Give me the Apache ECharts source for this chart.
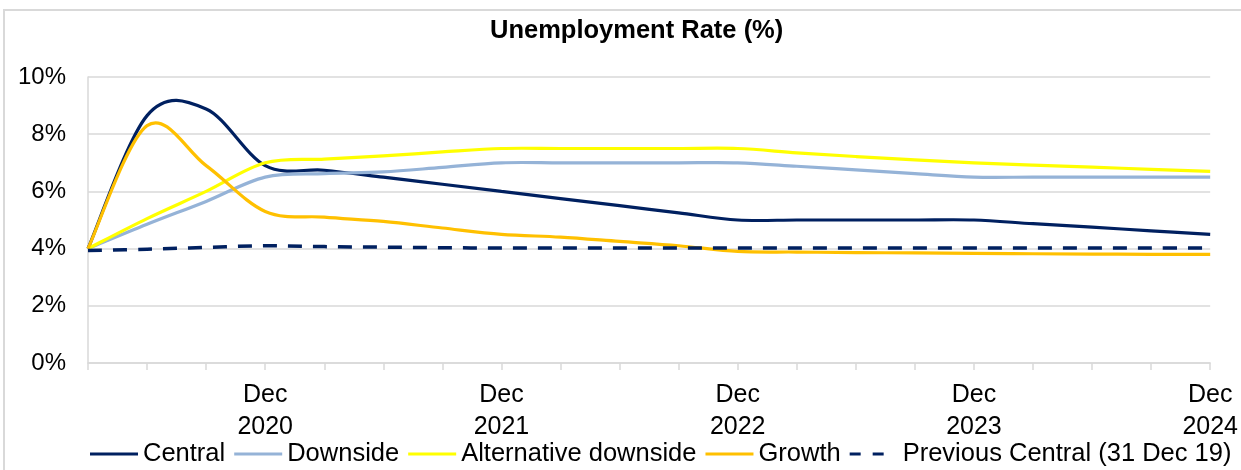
<!DOCTYPE html>
<html>
<head>
<meta charset="utf-8">
<script src="https://cdn.jsdelivr.net/npm/echarts@6/dist/echarts.min.js"></script>
<style>
html,body{margin:0;padding:0;background:#fff;}
#chart{width:1241px;height:470px;}
</style>
</head>
<body>
<div id="chart"></div>
<script>
// Quarterly categories, Mar 2020 .. Dec 2024
const categories = [
  'Mar 2020','Jun 2020','Sep 2020','Dec 2020',
  'Mar 2021','Jun 2021','Sep 2021','Dec 2021',
  'Mar 2022','Jun 2022','Sep 2022','Dec 2022',
  'Mar 2023','Jun 2023','Sep 2023','Dec 2023',
  'Mar 2024','Jun 2024','Sep 2024','Dec 2024'
];
const central = [4.0, 8.65, 8.88, 6.9, 6.74, 6.5, 6.25, 6.0, 5.75, 5.5, 5.25, 5.0, 5.0, 5.0, 5.0, 5.0, 4.87, 4.75, 4.62, 4.5];
const downside = [4.0, 4.85, 5.65, 6.5, 6.62, 6.68, 6.84, 7.0, 7.0, 7.0, 7.0, 7.0, 6.88, 6.75, 6.62, 6.5, 6.5, 6.5, 6.5, 6.5];
const altDownside = [4.0, 5.05, 6.0, 7.0, 7.13, 7.24, 7.38, 7.5, 7.5, 7.5, 7.5, 7.5, 7.35, 7.22, 7.1, 7.0, 6.92, 6.85, 6.77, 6.7];
const growth = [4.0, 8.3, 6.9, 5.3, 5.1, 4.95, 4.72, 4.5, 4.4, 4.25, 4.1, 3.9, 3.88, 3.86, 3.85, 3.83, 3.82, 3.81, 3.8, 3.8];
const previousCentral = [3.93, 3.98, 4.04, 4.1, 4.07, 4.05, 4.03, 4.02, 4.02, 4.02, 4.02, 4.02, 4.02, 4.02, 4.02, 4.02, 4.02, 4.02, 4.02, 4.02];
const yTicks = [0, 2, 4, 6, 8, 10];

const FONT = '"Liberation Sans", Arial, sans-serif';
const chart = echarts.init(document.getElementById('chart'), null, {renderer: 'canvas'});

// Spreadsheet-style smoothed curve through the data points (Catmull-Rom -> Bezier),
// with every point placed through the chart's own axes via api.coord.
function smoothPath(api, values) {
  const p = values.map((v, i) => api.coord([i, v]));
  let d = 'M' + p[0][0] + ' ' + p[0][1];
  for (let i = 0; i < p.length - 1; i++) {
    const a = p[i - 1] || p[i], b = p[i], c = p[i + 1], e = p[i + 2] || p[i + 1];
    const c1x = b[0] + (c[0] - a[0]) / 6, c1y = b[1] + (c[1] - a[1]) / 6;
    const c2x = c[0] - (e[0] - b[0]) / 6, c2y = c[1] - (e[1] - b[1]) / 6;
    d += ' C' + c1x + ' ' + c1y + ' ' + c2x + ' ' + c2y + ' ' + c[0] + ' ' + c[1];
  }
  return d;
}

function mk(name, values, color, width, dash) {
  return {
    name: name, type: 'custom',
    data: values.map((v, i) => [i, v]),
    encode: {x: 0, y: 1},
    itemStyle: {color: color},
    renderItem: function (params, api) {
      if (params.dataIndex !== 0) return;
      return {
        type: 'path',
        shape: {pathData: smoothPath(api, values)},
        style: {fill: 'none', stroke: color, lineWidth: width, lineDash: dash || null, lineCap: 'butt', lineJoin: 'round'}
      };
    }
  };
}

const LINE_ICON = 'path://M0,0H48V3H0Z';
const DASH_ICON = 'path://M0,0H11V3H0Z M23,0H34V3H23Z M47.9,0H48V0.01H47.9Z';

chart.setOption({
  animation: false,
  backgroundColor: '#fff',
  graphic: [{
    type: 'rect', shape: {x: 4, y: 10, width: 1400, height: 600},
    style: {fill: 'none', stroke: '#D9D9D9', lineWidth: 2}, silent: true, z: -1
  }],
  title: {
    text: 'Unemployment Rate (%)', left: 490, top: 18, padding: 0,
    textStyle: {fontFamily: FONT, fontWeight: 'bold', fontSize: 25.5, color: '#000'}
  },
  grid: {left: 88, right: 30, top: 77, bottom: 107, containLabel: false},
  xAxis: {
    type: 'category', data: categories, boundaryGap: false,
    axisLine: {show: true, lineStyle: {color: '#D9D9D9', width: 1.5}},
    axisTick: {show: true, length: 7, interval: 0, lineStyle: {color: '#D9D9D9', width: 1.5}},
    axisLabel: {
      interval: 0, margin: 16, fontFamily: FONT, fontSize: 25, color: '#000', lineHeight: 32,
      formatter: function (v) {
        const p = v.split(' ');
        return p[0] === 'Dec' ? 'Dec\n' + p[1] : '';
      }
    },
    splitLine: {show: false}
  },
  yAxis: {
    type: 'value', min: yTicks[0], max: yTicks[yTicks.length - 1], interval: 2,
    axisLine: {show: true, lineStyle: {color: '#D9D9D9', width: 1.5}},
    axisTick: {show: false},
    axisLabel: {margin: 22, fontFamily: FONT, fontSize: 24, color: '#000', formatter: v => v + '%'},
    splitLine: {show: true, lineStyle: {color: '#D9D9D9', width: 1.5}}
  },
  legend: {
    top: 441, left: 90, width: 1300, padding: 0, itemWidth: 48, itemHeight: 3, itemGap: 9,
    textStyle: {fontFamily: FONT, fontSize: 25.5, color: '#000'},
    data: [
      {name: 'Central', icon: LINE_ICON},
      {name: 'Downside', icon: LINE_ICON},
      {name: 'Alternative downside', icon: LINE_ICON},
      {name: 'Growth', icon: LINE_ICON},
      {name: 'Previous Central (31 Dec 19)', icon: DASH_ICON}
    ]
  },
  series: [
    mk('Central', central, '#002060', 3.2),
    mk('Downside', downside, '#95B3D7', 3.2),
    mk('Alternative downside', altDownside, '#FFFF00', 3.2),
    mk('Growth', growth, '#FFC000', 3.2),
    mk('Previous Central (31 Dec 19)', previousCentral, '#002060', 3.5, [14, 11])
  ]
});
</script>
</body>
</html>
